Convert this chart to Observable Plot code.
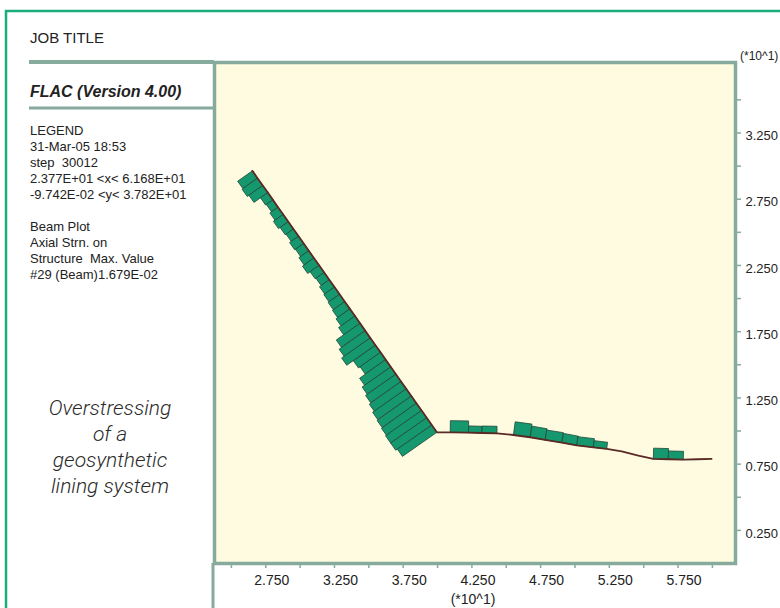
<!DOCTYPE html>
<html><head><meta charset="utf-8">
<script src="https://cdn.jsdelivr.net/npm/d3@7"></script>
<script src="https://cdn.jsdelivr.net/npm/@observablehq/plot@0.6"></script>
<style>html,body{margin:0;padding:0;background:#fff;overflow:hidden}</style>
</head><body><div id="chart"></div>
<script>
// Beam node coordinates (units of 10 m, i.e. *10^1)
const beamX = [2.653,2.690,2.728,2.765,2.802,2.839,2.877,2.914,2.951,2.989,3.026,3.063,3.100,3.138,3.175,3.212,3.250,3.287,3.324,3.362,3.399,3.436,3.473,3.511,3.548,3.585,3.622,3.660,3.697,3.734,3.772,3.809,3.846,3.884,3.921,3.958,3.995,
  4.092,4.225,4.323,4.432,4.552,4.674,4.783,4.904,5.013,5.134,5.231,5.340,5.461,5.570,5.679,5.788,5.892,5.994];
const beamY = [2.964,2.909,2.854,2.800,2.745,2.690,2.635,2.580,2.525,2.471,2.416,2.361,2.306,2.251,2.197,2.142,2.087,2.032,1.977,1.922,1.868,1.813,1.758,1.703,1.648,1.594,1.539,1.484,1.429,1.374,1.319,1.264,1.210,1.155,1.100,1.045,0.990,
  0.990,0.988,0.985,0.983,0.970,0.953,0.933,0.913,0.892,0.877,0.865,0.847,0.814,0.790,0.787,0.784,0.787,0.790];
// Axial strain per beam element (x 1e-3); sign gives the side of the beam it is drawn on
const segStrain = [6.87,7.25,6.49,3.43,3.05,3.82,4.58,3.82,3.43,4.20,3.82,4.58,5.34,4.20,3.82,4.58,4.96,5.34,5.72,6.49,7.63,11.06,12.21,13.35,10.30,9.54,12.21,13.35,14.12,14.88,15.64,16.02,16.41,16.79,16.79,16.02,
  0,-4.46,-2.56,-2.67,0,-5.07,-4.31,-3.82,-3.55,-3.32,-2.56,0,0,0,-4.08,-3.17,0,0];
const xTickLabels = [2.75,3.25,3.75,4.25,4.75,5.25,5.75];
const yTickLabels = [0.25,0.75,1.25,1.75,2.25,2.75,3.25];
const xMinorTicks = [2.5,2.75,3.0,3.25,3.5,3.75,4.0,4.25,4.5,4.75,5.0,5.25,5.5,5.75,6.0];
const yMinorTicks = [0.25,0.5,0.75,1.0,1.25,1.5,1.75,2.0,2.25,2.5,2.75,3.0,3.25,3.5];
const legendLines = ["LEGEND","31-Mar-05 18:53","step  30012","2.377E+01 <x< 6.168E+01","-9.742E-02 <y< 3.782E+01","","Beam Plot","Axial Strn. on","Structure  Max. Value","#29 (Beam)1.679E-02"];
const noteLines = ["Overstressing","of a","geosynthetic","lining system"];

const W=780,H=608,mL=214,mR=45,mT=62,mB=45;
const xDomain=[2.377,6.168], yDomain=[0,3.782];
const kx=(W-mL-mR)/(xDomain[1]-xDomain[0]);
const ky=(H-mT-mB)/(yDomain[1]-yDomain[0]);
const pxPerStrain = 2.621;
const axisColor = "#86aa9c";
const SANS = "'Liberation Sans', Arial, Helvetica, sans-serif";

const beam = beamX.map((x,i)=>({x, y: beamY[i]}));
const polys = [];
segStrain.forEach((s,i)=>{
  if(!s) return;
  const ax=beamX[i]*kx, ay=-beamY[i]*ky, bx=beamX[i+1]*kx, by=-beamY[i+1]*ky;
  const len=Math.hypot(bx-ax,by-ay), ux=(bx-ax)/len, uy=(by-ay)/len;
  const nx=-uy, ny=ux, L=s*pxPerStrain;
  [[ax,ay],[bx,by],[bx+L*nx,by+L*ny],[ax+L*nx,ay+L*ny],[ax,ay]].forEach(([px,py])=>polys.push({id:i,x:px/kx,y:-py/ky}));
});

const fmt = d3.format(".3f");
const chart = Plot.plot({
  width:W,height:H,marginLeft:mL,marginRight:mR,marginTop:mT,marginBottom:mB,
  x:{domain:xDomain}, y:{domain:yDomain},
  style:{fontFamily:SANS, background:"#fff", color:"#222"},
  marks:[
    Plot.frame({fill:"#fefbe0"}),
    Plot.line(polys,{x:"x",y:"y",z:"id",fill:"#16986f",stroke:"#1f4638",strokeWidth:0.8}),
    Plot.line(beam,{x:"x",y:"y",stroke:"#5a2a24",strokeWidth:1.8}),
    Plot.axisX({ticks:xMinorTicks,tickSize:5,tickFormat:()=>"",stroke:axisColor,strokeWidth:1.5,label:null}),
    Plot.axisX({ticks:xTickLabels,tickSize:0,tickPadding:12,tickFormat:fmt,fontSize:14,fontFamily:SANS,dx:6,fill:"#222",label:null}),
    Plot.axisY({anchor:"right",ticks:yMinorTicks,tickSize:5,tickFormat:()=>"",stroke:axisColor,strokeWidth:1.5,label:null}),
    Plot.axisY({anchor:"right",ticks:yTickLabels,tickSize:0,tickPadding:10,tickFormat:fmt,fontSize:13,fontFamily:SANS,dy:3,fill:"#222",label:null}),
    Plot.frame({stroke:axisColor,strokeWidth:3.5})
  ]
});
document.getElementById("chart").appendChild(chart);

const svg = d3.select(chart);
const g = svg.append("g").attr("text-anchor","start");
g.append("path").attr("d","M6,608V11H780").attr("fill","none").attr("stroke","#19ad7a").attr("stroke-width",2.5);
g.append("line").attr("x1",29).attr("x2",214).attr("y1",62).attr("y2",62).attr("stroke",axisColor).attr("stroke-width",4);
g.append("line").attr("x1",29).attr("x2",213).attr("y1",108).attr("y2",108).attr("stroke",axisColor).attr("stroke-width",3);
g.append("line").attr("x1",213).attr("x2",213).attr("y1",563).attr("y2",608).attr("stroke",axisColor).attr("stroke-width",3);
const txt = (x,y,s,size,extra={}) => {
  const t = g.append("text").attr("x",x).attr("y",y).attr("font-size",size).attr("fill","#222")
    .attr("text-anchor","start")
    .attr("font-family",SANS).style("white-space","pre").text(s);
  Object.entries(extra).forEach(([k,v])=>t.attr(k,v));
  return t;
};
txt(30,43,"JOB TITLE",15);
txt(30,97,"FLAC (Version 4.00)",16,{"font-weight":"bold","font-style":"italic"});
legendLines.forEach((s,i)=>{ if(s) txt(30,134.5+i*16.1,s,13); });
noteLines.forEach((s,i)=>txt(110,415+i*26,s,21,{"text-anchor":"middle","font-style":"italic","font-family":"Roboto, 'Liberation Sans', sans-serif","font-weight":300,"fill":"#2a2a2a"}));
txt(473,604,"(*10^1)",14,{"text-anchor":"middle"});
txt(740,60,"(*10^1)",12);
</script></body></html>
